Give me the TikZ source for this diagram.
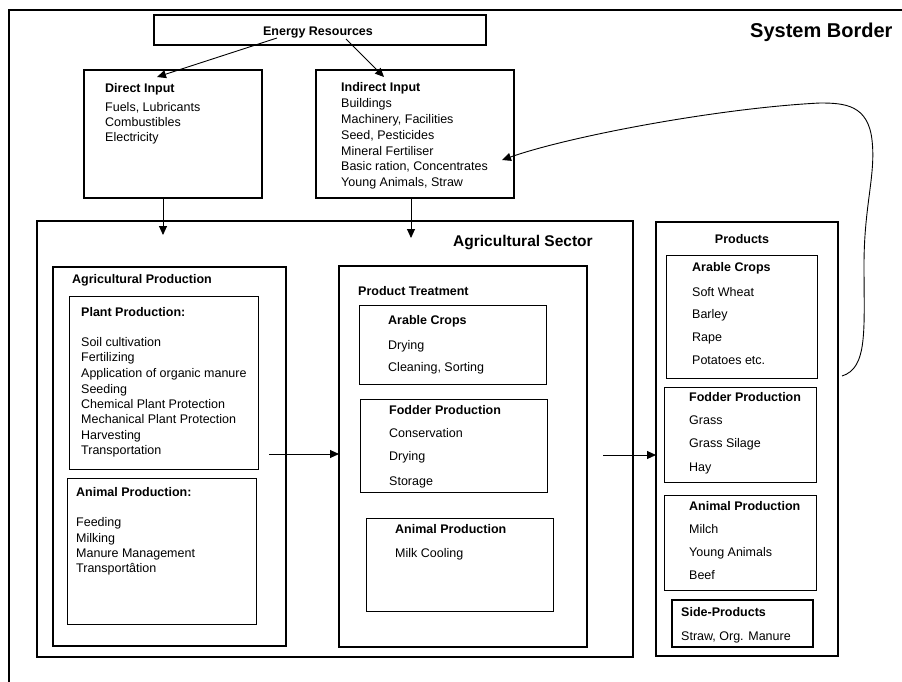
\documentclass[tikz,border=0pt]{standalone}
\usepackage{fontspec}
\setmainfont{Liberation Sans}
\usetikzlibrary{arrows.meta}
\newcounter{tc}
\newcommand{\tl}[4][]{\stepcounter{tc}\node[txt,#1] (t\arabic{tc}) at (#2,#3+4.3) {#4};}
\newcommand{\bx}[6]{\node[#1,minimum width={#4-#2},minimum height={#5-#3}] (#6) at (#2,#3) {};}
\begin{document}
\begin{tikzpicture}[x=1pt,y=-1pt,
  thickbox/.style={draw,line width=1.8pt,inner sep=0pt,outer sep=0pt,anchor=north west},
  thinbox/.style={draw,line width=1pt,inner sep=0pt,outer sep=0pt,anchor=north west},
  txt/.style={anchor=base west,inner sep=0pt,font=\fontsize{12.5}{15}\selectfont},
  hd/.style={font=\fontsize{12.5}{15}\selectfont\bfseries},
  arr/.style={line width=0.9pt,-{Triangle[length=9pt,width=8pt]}}]
\useasboundingbox (0,0) rectangle (902,682);
% system border
\coordinate (sbA) at (9,682);
\coordinate (sbB) at (9,10);
\coordinate (sbC) at (903,10);
\draw[line width=1.8pt] (sbA) -- (sbB) -- (sbC);
\tl[font=\fontsize{20}{24}\selectfont\bfseries]{750}{33}{System Border}
% boxes
\bx{thickbox}{154}{15}{486}{45}{er}
\bx{thickbox}{84}{70}{262}{198}{di}
\bx{thickbox}{316}{70}{514}{198}{ii}
\bx{thickbox}{37}{221}{633}{657}{as}
\bx{thickbox}{53}{267}{286}{646}{ap}
\bx{thinbox}{69}{296}{258}{469}{pp}
\bx{thinbox}{67}{478}{256}{624}{anp}
\bx{thickbox}{339}{266}{587}{647}{pt}
\bx{thinbox}{359}{305}{546}{384}{ptac}
\bx{thinbox}{360}{399}{547}{492}{ptfp}
\bx{thinbox}{366}{518}{553}{611}{ptan}
\bx{thickbox}{656}{222}{838}{656}{pr}
\bx{thinbox}{666}{255}{817}{378}{prac}
\bx{thinbox}{664}{387}{816}{482}{prfp}
\bx{thinbox}{664}{495}{816}{590}{pran}
\bx{thickbox}{672}{600}{813}{647}{prsp}
% texts
\node[txt,hd,anchor=base] (ertxt) at (318,35.3) {Energy Resources};
\tl[hd]{105}{88}{Direct Input}
\tl{105}{107}{Fuels, Lubricants}
\tl{105}{122}{Combustibles}
\tl{105}{137}{Electricity}
\tl[hd]{341}{87}{Indirect Input}
\tl{341}{103}{Buildings}
\tl{341}{119}{Machinery, Facilities}
\tl{341}{135}{Seed, Pesticides}
\tl{341}{151}{Mineral Fertiliser}
\tl{341}{166}{Basic ration, Concentrates}
\tl{341}{182}{Young Animals, Straw}
\tl[font=\fontsize{15.5}{18}\selectfont\bfseries]{453}{242}{Agricultural Sector}
\tl[hd]{72}{279}{Agricultural Production}
\tl[hd]{81}{312}{Plant Production:}
\tl{81}{342}{Soil cultivation}
\tl{81}{357}{Fertilizing}
\tl{81}{373}{Application of organic manure}
\tl{81}{389}{Seeding}
\tl{81}{404}{Chemical Plant Protection}
\tl{81}{419}{Mechanical Plant Protection}
\tl{81}{435}{Harvesting}
\tl{81}{450}{Transportation}
\tl[hd]{76}{492}{Animal Production:}
\tl{76}{522}{Feeding}
\tl{76}{538}{Milking}
\tl{76}{553}{Manure Management}
\tl{76}{568}{Transportâtion}
\tl[hd]{358}{291}{Product Treatment}
\tl[hd]{388}{320}{Arable Crops}
\tl{388}{345}{Drying}
\tl{388}{367}{Cleaning, Sorting}
\tl[hd]{389}{410}{Fodder Production}
\tl{389}{433}{Conservation}
\tl{389}{456}{Drying}
\tl{389}{481}{Storage}
\tl[hd]{395}{529}{Animal Production}
\tl{395}{553}{Milk Cooling}
\node[txt,hd,anchor=base] (prtxt) at (742,243.3) {Products};
\tl[hd]{692}{267}{Arable Crops}
\tl{692}{292}{Soft Wheat}
\tl{692}{314}{Barley}
\tl{692}{337}{Rape}
\tl{692}{360}{Potatoes etc.}
\tl[hd]{689}{397}{Fodder Production}
\tl{689}{420}{Grass}
\tl{689}{443}{Grass Silage}
\tl{689}{467}{Hay}
\tl[hd]{689}{506}{Animal Production}
\tl{689}{529}{Milch}
\tl{689}{552}{Young Animals}
\tl{689}{575}{Beef}
\tl[hd]{681}{612}{Side-Products}
\tl{681}{636}{Straw, Org. Manure}
% connectors
\coordinate (erA) at (277,38);
\coordinate (diT) at (157,77);
\coordinate (erB) at (346,39);
\coordinate (iiT) at (384,77);
\draw[arr] (erA) -- (diT);
\draw[arr] (erB) -- (iiT);
\coordinate (asT1) at (163,235);
\coordinate (asT2) at (411,238);
\draw[arr] (di.south -| asT1) -- (asT1);
\draw[arr] (ii.south -| asT2) -- (asT2);
\coordinate (apS) at (269,454);
\draw[arr] (apS) -- (apS -| pt.west);
\coordinate (asS) at (603,455);
\draw[arr] (asS) -- (asS -| pr.west);
\coordinate (fbS) at (842,376);
\coordinate (fbT) at (502,160);
\draw[arr] (fbS) .. controls (868,368) and (864,330) .. (864,265)
  .. controls (864,205) and (876,175) .. (872,140)
  .. controls (868,105) and (845,103) .. (820,103)
  .. controls (720,108) and (570,136) .. (fbT);
\end{tikzpicture}
\end{document}
